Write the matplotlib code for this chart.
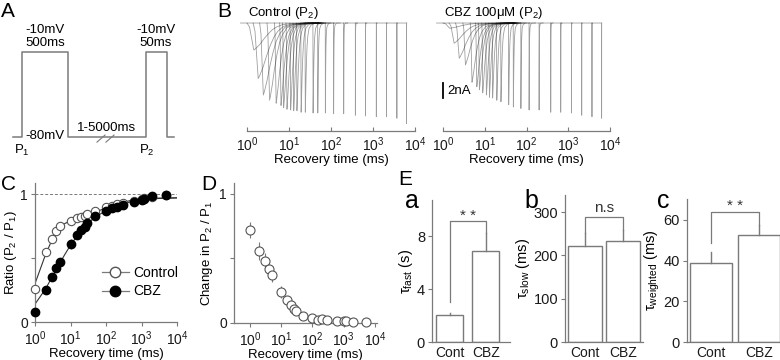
import numpy as np
import matplotlib
matplotlib.use("Agg")
import matplotlib.pyplot as plt
from matplotlib.lines import Line2D
from matplotlib.ticker import NullLocator

plt.rcParams['font.family'] = ['Liberation Sans', 'DejaVu Sans']
plt.rcParams['mathtext.fontset'] = 'custom'
plt.rcParams['mathtext.rm'] = 'Liberation Sans'
plt.rcParams['mathtext.it'] = 'Liberation Sans:italic'
plt.rcParams['mathtext.bf'] = 'Liberation Sans:bold'
plt.rcParams['font.size'] = 9

# ---------------------------------------------------------------- data
rec_time = [1, 2, 3, 4, 5, 10, 15, 20, 25, 30, 50, 100, 150, 200, 300,
            600, 1000, 1200, 2000, 5000]                       # ms

ratio_ctrl = [0.26, 0.55, 0.65, 0.71, 0.75, 0.79, 0.81, 0.82, 0.83, 0.84,
              0.87, 0.895, 0.905, 0.92, 0.93, 0.945, 0.96, 0.965, 0.98, 0.99]
err_ctrl = [0.02, 0.03, 0.02, 0.02, 0.02, 0.015, 0.01, 0.01, 0.01, 0.01,
            0.01, 0.01, 0.01, 0.01, 0.01, 0.01, 0.01, 0.01, 0.005, 0.005]
ratio_cbz = [0.08, 0.25, 0.35, 0.42, 0.47, 0.61, 0.68, 0.72, 0.745, 0.77,
             0.83, 0.87, 0.89, 0.90, 0.915, 0.94, 0.95, 0.96, 0.985, 0.995]
err_cbz = [0.02, 0.03, 0.03, 0.03, 0.03, 0.04, 0.03, 0.02, 0.02, 0.02,
           0.015, 0.01, 0.01, 0.01, 0.01, 0.01, 0.01, 0.01, 0.005, 0.005]

# fitted curves
fit_t = [1, 2, 3, 4, 5, 7, 10, 15, 20, 30, 50, 100, 200, 300, 500, 1000,
         3000, 10000]
fit_ctrl = [0.30, 0.53, 0.64, 0.70, 0.74, 0.77, 0.79, 0.81, 0.82, 0.84,
            0.86, 0.89, 0.92, 0.935, 0.95, 0.96, 0.968, 0.97]
fit_cbz = [0.14, 0.26, 0.35, 0.41, 0.46, 0.53, 0.60, 0.67, 0.72, 0.77,
           0.82, 0.87, 0.90, 0.92, 0.94, 0.955, 0.965, 0.97]

change = [0.72, 0.56, 0.48, 0.42, 0.37, 0.24, 0.18, 0.14, 0.11, 0.09,
          0.057, 0.036, 0.026, 0.028, 0.023, 0.018, 0.015, 0.015, 0.005, 0.005]
err_change = [0.06, 0.07, 0.065, 0.03, 0.05, 0.045, 0.03, 0.02, 0.01, 0.01,
              0.01, 0.01, 0.005, 0.005, 0.005, 0.005, 0.005, 0.005, 0, 0]

# example cell (panel B): P2 onset times of the sweeps and their peak currents
sweep_t = [1, 1.4, 2, 3, 4.5, 6, 7, 8.5, 10.5, 12.5, 15, 19, 24, 37, 48,
           73, 115, 200, 380, 660, 1200, 2100, 3700, 6300]     # ms
peak_ctrl = [3.6, 7.4, 9.6, 10.3, 10.7, 11.0, 11.3, 11.5, 11.6, 11.7, 11.7,
             11.9, 11.9, 12.0, 12.0, 12.0, 12.1, 12.1, 12.3, 12.4, 12.5,
             12.5, 12.7, 13.4]                                 # nA
peak_cbz = [0.7, 2.7, 4.7, 5.6, 7.9, 8.5, 8.9, 9.3, 9.6, 9.9, 10.0, 10.3,
            10.5, 10.9, 11.2, 11.4, 11.6, 11.6, 11.9, 11.9, 12.0, 12.3,
            12.5, 12.7]                                        # nA

# normalised Na current waveform after P2 onset (ms, fraction of peak)
tmpl_t = np.array([0, 0.15, 0.3, 0.45, 0.6, 1.0, 1.5, 2.2, 3, 4, 6, 10,
                   20, 50])
tmpl_i = np.array([0, -0.15, -0.6, -1.0, -0.95, -0.8, -0.6, -0.4, -0.25,
                   -0.15, -0.06, -0.02, 0, 0])

groups = ['Cont', 'CBZ']
tau_fast = [2.05, 6.85]
tau_fast_err = [0.15, 1.4]
tau_slow = [221, 233]
tau_slow_err = [30, 26]
tau_w = [38.7, 52.4]
tau_w_err = [5.7, 5.0]

# protocol (panel A)
V_HOLD = -80
V_TEST = -10

W, H = 780, 360
GREY = '#7a7a7a'
TXT = '#1a1a1a'


def rect(left, right, top, bottom):
    return [left / W, 1 - bottom / H, (right - left) / W, (bottom - top) / H]


def style(ax):
    for s in ['top', 'right']:
        ax.spines[s].set_visible(False)
    for s in ['left', 'bottom']:
        ax.spines[s].set_color(GREY)
        ax.spines[s].set_linewidth(0.9)
    ax.tick_params(color=GREY, length=3, width=0.8, labelsize=10, pad=2,
                   labelcolor=TXT)


def log_x(ax, lo, hi):
    ax.set_xscale('log')
    ax.set_xlim(lo, hi)
    ax.set_xticks([1, 10, 100, 1000, 10000])
    ax.xaxis.set_minor_locator(NullLocator())


fig = plt.figure(figsize=(7.8, 3.6), dpi=100)

# ---------------------------------------------------------------- A
axA = fig.add_axes([0, 0.5, 230 / W, 0.5])
axA.axis('off')
axA.set_xlim(0, 230)
axA.set_ylim(-115, 33.2)
seg_w = [9, 46, 78, 21, 7]
seg_v = [V_HOLD, V_TEST, V_HOLD, V_TEST, V_HOLD]
x0 = 13
xs, vs = [], []
for w, v in zip(seg_w, seg_v):
    xs += [x0, x0 + w]
    vs += [v, v]
    x0 += w
axA.plot(xs, vs, color=GREY, lw=1.1)
for bx in [97, 106]:
    axA.plot([bx, bx + 8], [V_HOLD - 3.8, V_HOLD + 2], color=GREY, lw=0.8)
axA.text(45, V_TEST + 3, '-10mV\n500ms', ha='center', va='bottom',
         fontsize=9.5, linespacing=1.05)
axA.text(156, V_TEST + 3, '-10mV\n50ms', ha='center', va='bottom',
         fontsize=9.5, linespacing=1.05)
axA.text(25, V_HOLD + 1, '-80mV', ha='left', va='center', fontsize=9.5)
axA.text(107, V_HOLD + 7.5, '1-5000ms', ha='center', va='center',
         fontsize=9.5)
axA.text(14, V_HOLD - 10.5, 'P$_1$', ha='left', va='center', fontsize=9.5)
axA.text(139, V_HOLD - 10.5, 'P$_2$', ha='left', va='center', fontsize=9.5)

# ---------------------------------------------------------------- B
def traces(ax, peaks):
    prev = 0.7
    for r, a in zip(sweep_t, peaks):
        x = np.concatenate([[prev], r + tmpl_t])
        y = np.concatenate([[0], a * tmpl_i])
        ax.plot(x, y, color='k', alpha=0.38, lw=0.6, clip_on=False)
        prev = r
    style(ax)
    ax.spines['left'].set_visible(False)
    log_x(ax, 1, 1e4)
    ax.set_ylim(-14.4, 0.67)
    ax.set_yticks([])
    ax.tick_params(axis='x', direction='in', length=3, pad=3)
    ax.set_xlabel('Recovery time (ms)', fontsize=9.5, labelpad=0)


axB1 = fig.add_axes(rect(247, 415, 18, 131))
traces(axB1, peak_ctrl)
axB2 = fig.add_axes(rect(443, 610, 18, 131))
traces(axB2, peak_cbz)
fig.text(248 / W, 1 - 13 / H, 'Control (P$_2$)', ha='left', va='center',
         fontsize=9.5)
fig.text(444 / W, 1 - 13 / H, 'CBZ 100μM (P$_2$)', ha='left', va='center',
         fontsize=9.5)
axB2.plot([1, 1], [-8, -10], color='k', lw=1.3, clip_on=False)
axB2.text(1.3, -9, '2nA', ha='left', va='center', fontsize=9.5)

# ---------------------------------------------------------------- C
axC = fig.add_axes(rect(35, 177, 183, 322))
axC.axhline(1, color=GREY, lw=0.7, ls=(0, (3, 2)))
axC.plot(fit_t, fit_ctrl, color='#333333', lw=0.8)
axC.plot(fit_t, fit_cbz, color='#333333', lw=0.8)
axC.errorbar(rec_time, ratio_ctrl, yerr=err_ctrl, fmt='o', ms=6, mfc='white',
             mec='#555555', mew=0.8, ecolor=GREY, elinewidth=0.8, capsize=0,
             zorder=3, clip_on=False)
axC.errorbar(rec_time, ratio_cbz, yerr=err_cbz, fmt='o', ms=6, mfc='black',
             mec='black', ecolor=GREY, elinewidth=0.8, capsize=0, zorder=4,
             clip_on=False)
style(axC)
log_x(axC, 1, 1e4)
axC.set_ylim(0, 1.086)
axC.set_yticks([0, 0.5, 1])
axC.set_yticklabels(['0', '', '1'])
axC.set_xlabel('Recovery time (ms)', fontsize=9.5, labelpad=0)
axC.set_ylabel('Ratio (P$_2$ / P$_1$)', fontsize=9.5, labelpad=1)
hC = [Line2D([], [], color=GREY, lw=0.9, marker='o', ms=7.5, mfc='white',
             mec='#555555'),
      Line2D([], [], color=GREY, lw=0.9, marker='o', ms=7.5, mfc='black',
             mec='black')]
axC.legend(hC, ['Control', 'CBZ'], loc='lower left',
           bbox_to_anchor=(0.42, 0.12), frameon=False, fontsize=10,
           handlelength=2.0, handletextpad=0.3, labelspacing=0.3,
           borderpad=0)

# ---------------------------------------------------------------- D
axD = fig.add_axes(rect(234, 377, 183, 323))
axD.errorbar(rec_time, change, yerr=err_change, fmt='o', ms=6.5, mfc='white',
             mec='#555555', mew=0.8, ecolor=GREY, elinewidth=0.8, capsize=0,
             clip_on=False, zorder=3)
style(axD)
log_x(axD, 0.31, 11600)
axD.set_ylim(0, 1.085)
axD.set_yticks([0, 0.5, 1])
axD.set_yticklabels(['0', '', '1'])
axD.set_xlabel('Recovery time (ms)', fontsize=9.5, labelpad=0)
axD.set_ylabel('Change in P$_2$ / P$_1$', fontsize=9.5, labelpad=3)

# ---------------------------------------------------------------- E
def bars(r, vals, errs, width, xlim, ylim, yticks, ylabel, bracket, star,
         star_y):
    ax = fig.add_axes(r)
    xpos = np.arange(len(vals))
    ax.bar(xpos, vals, width=width, color='white', edgecolor=GREY, lw=1.0)
    for xp, v, e in zip(xpos, vals, errs):
        ax.plot([xp, xp], [v, v + e], color=GREY, lw=1.0)
    lo0, top, lo1 = bracket
    ax.plot([0, 0, 1, 1], [lo0, top, top, lo1], color=GREY, lw=0.9)
    ax.text(0.5, star_y, star, ha='center', va='bottom', fontsize=11,
            color='#333333')
    style(ax)
    ax.set_xlim(*xlim)
    ax.set_ylim(*ylim)
    ax.set_yticks(yticks)
    ax.set_xticks(xpos)
    ax.set_xticklabels(groups, fontsize=10)
    ax.tick_params(axis='x', length=0, pad=3)
    ax.tick_params(axis='y', labelsize=10.5)
    ax.set_ylabel(ylabel, fontsize=10.5, labelpad=1)
    return ax


axEa = bars(rect(432, 510, 200, 342), tau_fast, tau_fast_err, 0.75,
            (-0.5, 1.67), (0, 10.72), [0, 4, 8], 'τ$_{\\rm fast}$ (s)',
            (3.0, 9.1, 8.25), '* *', 9.0)
axEb = bars(rect(565, 643, 195, 342), tau_slow, tau_slow_err, 0.9,
            (-0.53, 1.53), (0, 339.5), [0, 100, 200, 300],
            'τ$_{\\rm slow}$ (ms)', (251, 289, 259), 'n.s', 293)
axEc = bars(rect(687, 780, 199, 342), tau_w, tau_w_err, 0.87,
            (-0.49, 1.43), (0, 70.3), [0, 20, 40, 60],
            'τ$_{\\rm weighted}$ (ms)', (48.6, 63.7, 57.5), '* *', 63.2)

# ---------------------------------------------------------------- labels
for lab, x, y in [('A', 1, 2), ('B', 217, 2), ('C', 1, 175), ('D', 201, 175),
                  ('E', 398, 170)]:
    fig.text(x / W, 1 - y / H, lab, ha='left', va='top', fontsize=15)
for lab, x in [('a', 405), ('b', 524), ('c', 657)]:
    fig.text(x / W, 1 - 208 / H, lab, ha='left', va='baseline', fontsize=18)

fig.savefig('out.png', dpi=100)
